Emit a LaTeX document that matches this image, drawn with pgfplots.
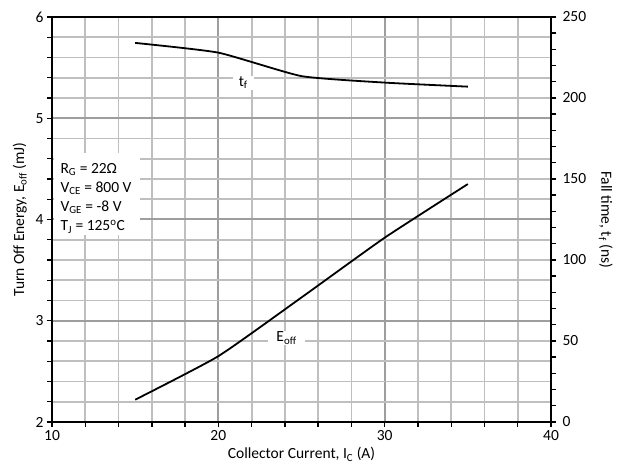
\documentclass[border=0pt]{standalone}
\usepackage{fontspec}
\setmainfont{Carlito}
\usepackage{pgfplots}
\pgfplotsset{compat=1.18}
\begin{document}
\begin{tikzpicture}
\pgfplotsset{
  every axis/.append style={
    scale only axis, width=499pt, height=405pt,
    xmin=10, xmax=40,
    font=\fontsize{15.5}{17}\selectfont,
    /pgf/number format/assume math mode=true,
    tick align=outside,
    major tick length=5pt, minor tick length=5pt,
    every tick/.style={black, line width=1.4pt},
    axis line style={line width=2.4pt},
  }
}
\begin{axis}[name=main,
  ymin=2, ymax=6,
  xtick={10,20,30,40}, ytick={2,3,4,5,6},
  minor x tick num=4, minor y tick num=4,
  tick pos=left,
  grid=both,
  every major grid/.style={draw=black!38, line width=2pt},
  every minor grid/.style={draw=black!25, line width=1.8pt},
  xlabel={Collector Current, I\textsubscript{C} (A)},
  ylabel={Turn Off Energy, E\textsubscript{off} (mJ)},
  ylabel style={yshift=2pt},
]
\addplot[black, line width=1.8pt, smooth, tension=0.3] coordinates {(15,2.22)(20,2.65)(25,3.23)(30,3.82)(35,4.35)};
\fill[white] (axis cs:10.1,3.85) rectangle (axis cs:15.3,4.66);
\node[anchor=north west, align=left, font=\fontsize{15.5}{19.3}\selectfont, inner sep=0pt] at (axis cs:10.5,4.56)
 {R\textsubscript{G} = 22Ω\\V\textsubscript{CE} = 800 V\\V\textsubscript{GE} = -8 V\\T\textsubscript{J} = 125\textsuperscript{o}C};
\node[fill=white, inner xsep=6pt, inner ysep=1pt] at (axis cs:21.5,5.35) {t\textsubscript{f}};
\node[fill=white, inner xsep=8pt, inner ysep=1pt] at (axis cs:24.1,2.83) {E\textsubscript{off}};
\end{axis}
\begin{axis}[
  ymin=0, ymax=250,
  axis x line=none, axis y line*=right,
  ytick={0,50,...,250}, minor y tick num=4,
  yticklabel style={xshift=3pt},
  ylabel={Fall time, t\textsubscript{f} (ns)},
  ylabel shift=6pt,
  ylabel style={rotate=180},
]
\addplot[black, line width=1.8pt, smooth, tension=0.3] coordinates {(15,234)(20,228)(25,213.5)(30,209.5)(35,207)};
\end{axis}
\pgfresetboundingbox
\path ([shift={(-52pt,-48pt)}]main.south west) rectangle ([shift={(75pt,17pt)}]main.north east);
\end{tikzpicture}
\end{document}
